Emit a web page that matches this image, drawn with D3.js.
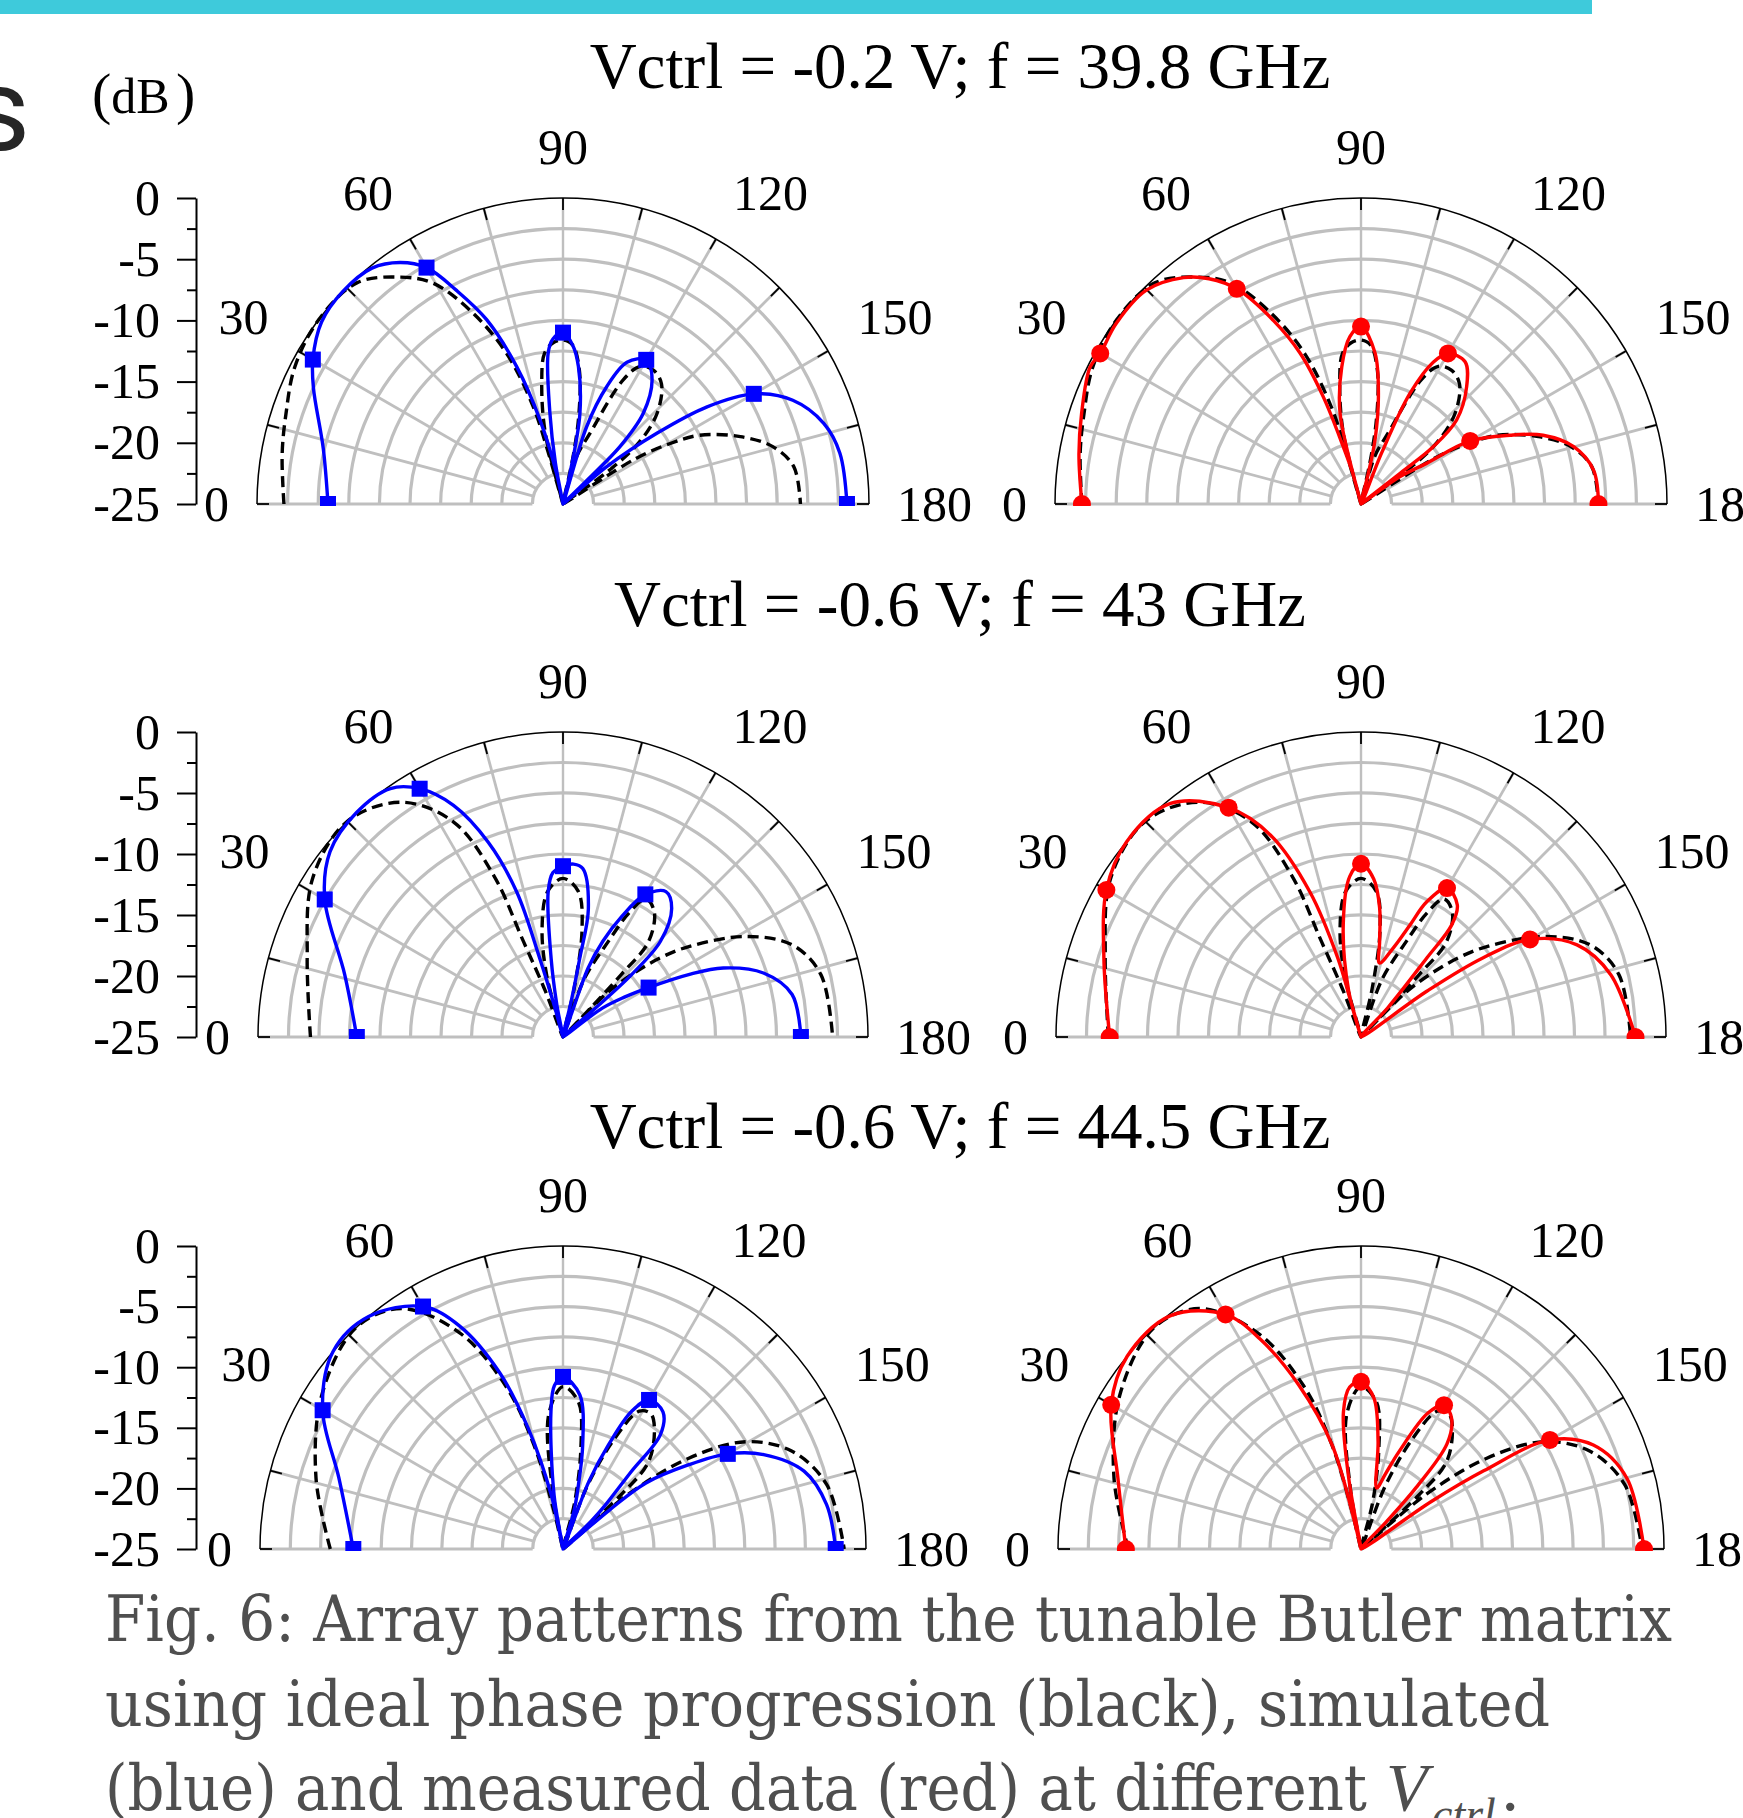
<!DOCTYPE html>
<html>
<head>
<meta charset="utf-8">
<script src="https://cdn.jsdelivr.net/npm/d3@7"></script>
<style>
  html, body { margin: 0; padding: 0; background: #fff; }
  svg { display: block; }
</style>
</head>
<body>
<svg id="chart" width="1743" height="1818"></svg>
<script>
// ---------- data: [angle (deg), level (dB)] ----------

const angleTicks = [0, 30, 60, 90, 120, 150, 180];
const dbTicks = [0, -5, -10, -15, -20, -25];
const dbMinorTicks = [-2.5, -7.5, -12.5, -17.5, -22.5];

const rowTitles = [
  "Vctrl = -0.2 V; f = 39.8 GHz",
  "Vctrl = -0.6 V; f = 43 GHz",
  "Vctrl = -0.6 V; f = 44.5 GHz",
];

// ideal phase progression (black dashed), same in both columns of a row
const ideal398 = [
  [0, -2.2], [10, -1.7], [18, -1.2], [27, -0.4], [37, 0], [47, -0.3], [54.4, -2.2],
  [59.6, -4.1], [64.8, -7.8], [69.5, -11.9], [73, -16.7], [74, -20.5], [74.8, -25],
  [76, -19], [80, -15], [83, -12.6], [86.5, -11.8], [90, -11.6], [93.5, -12], [97, -14],
  [100, -17.5], [102, -21], [103.5, -25], [106, -21], [110.9, -18.8], [115.9, -13.7],
  [119.3, -12.1], [124, -11.8], [129.3, -12.3], [136, -14.3], [141, -17], [144, -20.5],
  [146, -25], [148, -18], [150.5, -15], [153.3, -12.5], [159.2, -9.5], [164.8, -7.2],
  [170.8, -5.9], [180, -5.6],
];
const ideal43 = [
  [0, -4.3], [17.2, -3.05], [32.4, -0.7], [45, 0], [55.5, -1.65], [63, -5.2], [66.8, -10.6],
  [67.5, -16.5], [69, -21], [71, -25], [75, -20], [79, -16], [84, -13], [90, -12], [96, -13],
  [100, -16], [103, -21], [105, -25], [110, -20], [115.4, -16.3], [118, -13.5], [121, -11.8],
  [126.1, -12.3], [131.9, -14.5], [133, -18], [133.6, -21.5], [134, -25], [135, -20],
  [137.7, -17.4], [140.9, -14.7], [144.3, -12.3], [151.2, -7.9], [158.1, -4.75],
  [166.4, -3.25], [180, -2.9],
];
const ideal445 = [
  [0, -5.8], [16, -3.8], [32.5, -1.4], [46.8, 0], [56.1, -1.1], [64.4, -5.2], [70.6, -10.7],
  [74.4, -16.1], [76.6, -21.8], [78, -25], [80, -20], [84, -13.8], [90, -11.6], [96, -12.8],
  [100, -16.5], [104, -21], [107, -25], [111, -19.5], [115, -15], [119, -12], [123, -11.7],
  [127.1, -12.5], [134.4, -14.9], [137, -18.5], [138, -25], [140, -18], [144.2, -12.2],
  [149.6, -7.5], [156.9, -4.45], [166.3, -2.6], [180, -1.8],
];

// simulated (blue)
const sim398 = [
  [0, -5.8], [13, -4.9], [25, -2.5], [30, -1.4], [37, -0.3], [44, 0], [51, -0.2], [56, -1.2],
  [60, -2.7], [63.5, -5.5], [67.5, -8.7], [71.4, -13.2], [74.7, -17.9], [78, -22.4], [78.6, -25],
  [79.5, -21.6], [81.8, -17.5], [84.4, -12.6], [86.5, -11.5], [90, -11], [93.5, -12],
  [96.4, -13.7], [100.6, -17.5], [102.8, -22.4], [104, -25], [107, -18.4], [110.4, -14.8],
  [114.3, -12.3], [120, -11.4], [125.6, -12.5], [131.5, -15.1], [134.8, -18.4], [135.5, -22],
  [137, -25], [139.5, -20.3], [143, -15.4], [146, -10.8], [150, -7], [155.7, -4.4],
  [162.8, -2.7], [169.6, -2], [180, -1.8],
];
const sim43 = [
  [0, -8.1], [15.9, -6.4], [30, -2.45], [38.5, -0.6], [47.4, 0], [55.2, -0.2], [60, -1.5],
  [64.7, -4], [69, -7.9], [72.3, -12.5], [73.5, -18.2], [74.5, -22.5], [76, -25], [79.2, -22.3],
  [81.4, -18.5], [84.2, -13], [86.5, -11.5], [90, -11], [93.5, -10.8], [96.7, -11.1],
  [101.2, -14.3], [102, -18.4], [102.9, -22], [106, -25], [110, -19], [112.6, -16.5],
  [116, -14], [120, -11.5], [125.3, -10.4], [130.2, -11.2], [135.5, -13.8], [137.7, -17.4],
  [138.3, -20.6], [140, -25], [143.7, -21], [147, -19], [150, -16.9], [153.6, -13.5],
  [156.7, -10.7], [162.3, -7.75], [169.5, -5.9], [180, -5.5],
];
const sim445 = [
  [0, -7.7], [17.6, -5.6], [30, -2.1], [40.6, 0], [50.1, 0], [60, -1.9], [65.1, -4.7],
  [70.2, -9.5], [73.9, -14.6], [77.7, -20.4], [79, -25], [80.6, -20.5], [85, -13.6],
  [87, -11.5], [90, -10.8], [96.2, -12.2], [100.7, -16.25], [104, -20], [106.2, -21.75],
  [108, -25], [111, -19], [113.6, -15.6], [116.5, -12.3], [120, -10.8], [126.1, -11],
  [130.4, -12.6], [131.4, -16.5], [134, -20], [135.4, -21.7], [138, -25], [140, -20],
  [141.5, -16.25], [146.2, -12.5], [150, -9.3], [154.8, -6.7], [162.1, -4.1], [170.4, -2.95],
  [180, -2.5],
];

// measured (red)
const meas398 = [
  [0, -2.2], [10, -1.6], [18, -1], [26.8, -0.2], [30, -0.4], [36.4, -0.15], [44.9, -0.25],
  [51.9, -1.5], [56, -2.8], [60, -4.7], [64.5, -8.4], [68, -11.7], [70.6, -15.7], [72.8, -20.1],
  [75, -22.4], [76.3, -25], [77, -17.4], [82, -13.7], [86.2, -11.3], [90, -10.5], [95.3, -12.6],
  [99.2, -16.1], [102.3, -19.6], [103.4, -22.4], [108, -25], [112, -20.5], [113.9, -15.1],
  [117, -12], [120, -10.8], [126.2, -10.6], [132, -12.1], [138.7, -14.6], [141.6, -17.5],
  [141.8, -20.9], [143.5, -25], [145, -21.1], [148.2, -18.7], [150, -14.7], [155.2, -11.6],
  [159.3, -9.1], [164.9, -7], [171.7, -5.8], [180, -5.6],
];
const meas43 = [
  [0, -4.4], [17.1, -2.95], [30, -0.9], [39.7, 0], [50.8, -0.3], [60, -3.3], [65.9, -6.9],
  [70.6, -12.4], [73.6, -18.25], [74, -22], [74.5, -25], [75, -21.1], [81, -15.7], [86, -11.8],
  [90, -10.8], [94.6, -12], [98.2, -14.3], [101, -17], [104, -18.75], [110, -17.2],
  [113.6, -15], [115.9, -12.7], [120, -10.9], [126.1, -11.6], [129, -13.2], [129.8, -16.6],
  [132.5, -21.75], [138, -25], [145.2, -18.4], [147, -13.1], [150, -9], [156.9, -5.75],
  [166, -3.9], [180, -2.5],
];
const meas445 = [
  [0, -5.6], [16.3, -4.1], [30, -1.2], [39.5, 0], [50.8, -0.15], [60, -2.65], [64.3, -5.75],
  [69.2, -10.5], [74.5, -16.1], [76.7, -22.6], [77.5, -25], [80.2, -19], [82.7, -13.6],
  [86, -11.6], [90, -11.2], [94.9, -12.5], [99, -16], [104.4, -19.8], [108, -18.5],
  [111.3, -16.4], [116.2, -12.5], [120, -11.3], [124.8, -11.9], [129.3, -13.8], [131.9, -18.2],
  [133, -22], [140, -25], [146, -18], [147.5, -13], [150, -7], [155.9, -4], [165.1, -2.3],
  [180, -1.65],
];

const captionLines = [
  "Fig. 6: Array patterns from the tunable Butler matrix",
  "using ideal phase progression (black), simulated",
  "(blue) and measured data (red) at different",
];

// ---------- layout ----------

const W = 1743;
const H = 1818;
const serif = "'Liberation Serif', 'Times New Roman', serif";
const gridGrey = "#bfbfbf";
const colX = [563, 1361];

const rows = [
  { title: rowTitles[0], titleY: 88, cy: 504, R: 306, ideal: ideal398, sim: sim398, meas: meas398 },
  { title: rowTitles[1], titleY: 626, cy: 1037, R: 305, ideal: ideal43, sim: sim43, meas: meas43 },
  { title: rowTitles[2], titleY: 1148, cy: 1549, R: 303, ideal: ideal445, sim: sim445, meas: meas445 },
];

const svg = d3.select("#chart");
svg.append("rect").attr("width", W).attr("height", H).attr("fill", "#fff");

// slide decoration: banner strip and the cut-off heading letter
svg.append("rect").attr("x", 0).attr("y", 0).attr("width", 1592).attr("height", 14).attr("fill", "#3ecadb");
svg.append("text")
  .attr("x", 30).attr("y", 150).attr("text-anchor", "end")
  .style("font-family", "Roboto, 'Open Sans', sans-serif").style("font-size", "116px")
  .attr("fill", "#262626").text("s");

// (dB ) unit label
const unit = svg.append("text").attr("x", 92).attr("y", 113)
  .style("font-family", serif).attr("fill", "#000");
unit.append("tspan").style("font-size", "58px").text("(");
unit.append("tspan").style("font-size", "50px").text("dB");
unit.append("tspan").attr("x", 176).style("font-size", "58px").text(")");

// ---------- one half-polar panel ----------

let clipCount = 0;

function drawPanel(cx, cy, R, ideal, series, color, marker, withAxis) {
  const g = svg.append("g").attr("transform", `translate(${cx},${cy})`);

  const angle = d3.scaleLinear().domain([0, 180]).range([-Math.PI / 2, Math.PI / 2]);
  const radius = d3.scaleLinear().domain([-25, 0]).range([0, R]).clamp(true);
  const xy = (deg, r) => {
    const a = angle(deg);
    return [r * Math.sin(a), -r * Math.cos(a)];
  };

  const rInner = radius(-22.5);

  // grey rings every 2.5 dB
  const ringLevels = d3.range(1, 10).map((i) => -25 + 2.5 * i);
  g.selectAll(".ring").data(ringLevels).join("path")
    .attr("fill", "none").attr("stroke", gridGrey).attr("stroke-width", 3.2)
    .attr("d", (d) => {
      const r = radius(d);
      const p = d3.path();
      p.moveTo(-r, 0);
      p.arc(0, 0, r, Math.PI, 2 * Math.PI);
      return p.toString();
    });

  // spokes every 15 deg
  g.selectAll(".spoke").data(d3.range(15, 180, 15)).join("line")
    .attr("stroke", gridGrey).attr("stroke-width", (d) => (d === 90 ? 2.4 : 2.8))
    .attr("x1", (d) => xy(d, rInner)[0]).attr("y1", (d) => xy(d, rInner)[1])
    .attr("x2", (d) => xy(d, R)[0]).attr("y2", (d) => xy(d, R)[1]);

  // baseline (0 and 180 spokes)
  g.selectAll(".base").data([[-R, -rInner], [rInner, R]]).join("line")
    .attr("stroke", gridGrey).attr("stroke-width", 3)
    .attr("x1", (d) => d[0]).attr("x2", (d) => d[1]).attr("y1", 0).attr("y2", 0);

  // outer black arc + ticks
  const outer = d3.path();
  outer.moveTo(-R, 0);
  outer.arc(0, 0, R, Math.PI, 2 * Math.PI);
  g.append("path").attr("d", outer.toString())
    .attr("fill", "none").attr("stroke", "#000").attr("stroke-width", 1.5);

  g.selectAll(".atick").data(d3.range(0, 181, 15)).join("line")
    .attr("stroke", "#000").attr("stroke-width", 1.8)
    .attr("x1", (d) => xy(d, R - 12)[0]).attr("y1", (d) => xy(d, R - 12)[1])
    .attr("x2", (d) => xy(d, R)[0]).attr("y2", (d) => xy(d, R)[1]);

  // angle labels
  g.selectAll(".alabel").data(angleTicks).join("text")
    .style("font-family", serif).style("font-size", "50px").attr("fill", "#000")
    .attr("x", (d) => xy(d, d === 0 || d === 180 ? R + 28 : R + 34)[0])
    .attr("y", (d) => xy(d, d === 0 || d === 180 ? R + 28 : R + 34)[1])
    .attr("text-anchor", (d) => (d < 90 ? "end" : d > 90 ? "start" : "middle"))
    .attr("dominant-baseline", (d) => (d === 0 || d === 180 ? "central" : "alphabetic"))
    .text((d) => d);

  // radial dB axis on the left
  if (withAxis) {
    const yScale = d3.scaleLinear().domain([-25, 0]).range([0, -R]);
    const axisX = 196 - cx;
    const major = g.append("g").attr("transform", `translate(${axisX},0)`)
      .call(d3.axisLeft(yScale).tickValues(dbTicks).tickSize(19).tickSizeOuter(0)
        .tickPadding(17).tickFormat((d) => String(d)));
    major.select(".domain").attr("stroke-width", 2);
    major.selectAll(".tick line").attr("stroke-width", 2);
    major.selectAll("text").style("font-family", serif).style("font-size", "50px").attr("fill", "#000");
    major.attr("font-size", null).attr("font-family", null);

    g.append("g").attr("transform", `translate(${axisX},0)`)
      .call(d3.axisLeft(yScale).tickValues(dbMinorTicks).tickSize(9).tickSizeOuter(0).tickFormat(""))
      .call((a) => a.select(".domain").remove())
      .selectAll(".tick line").attr("stroke-width", 2);
  }

  // curves, clipped to the upper half
  clipCount += 1;
  const clipId = `clip-${clipCount}`;
  g.append("clipPath").attr("id", clipId)
    .append("rect").attr("x", -R - 40).attr("y", -R - 40).attr("width", 2 * R + 80).attr("height", R + 42);

  const plot = g.append("g").attr("clip-path", `url(#${clipId})`);

  const line = d3.lineRadial()
    .angle((d) => angle(d[0]))
    .radius((d) => radius(d[1]))
    .curve(d3.curveCatmullRom.alpha(0.5));

  plot.append("path").datum(ideal).attr("d", line)
    .attr("fill", "none").attr("stroke", "#000").attr("stroke-width", 3.4)
    .attr("stroke-dasharray", "11,6");

  plot.append("path").datum(series).attr("d", line)
    .attr("fill", "none").attr("stroke", color).attr("stroke-width", 3.4)
    .attr("stroke-linejoin", "round");

  const marked = series.filter((d) => d[0] % 30 === 0);
  if (marker === "square") {
    plot.selectAll(".mk").data(marked).join("rect")
      .attr("x", (d) => xy(d[0], radius(d[1]))[0] - 8)
      .attr("y", (d) => xy(d[0], radius(d[1]))[1] - 8)
      .attr("width", 16).attr("height", 16).attr("fill", color);
  } else {
    plot.selectAll(".mk").data(marked).join("circle")
      .attr("cx", (d) => xy(d[0], radius(d[1]))[0])
      .attr("cy", (d) => xy(d[0], radius(d[1]))[1])
      .attr("r", 9).attr("fill", color);
  }
}

// ---------- draw rows ----------

rows.forEach((row) => {
  svg.append("text")
    .attr("x", 960).attr("y", row.titleY).attr("text-anchor", "middle")
    .style("font-family", serif).style("font-size", "65px").attr("fill", "#000")
    .text(row.title);

  drawPanel(colX[0], row.cy, row.R, row.ideal, row.sim, "#0000ff", "square", true);
  drawPanel(colX[1], row.cy, row.R, row.ideal, row.meas, "#ff0000", "circle", false);
});

// ---------- caption ----------

const capFont = "'DejaVu Serif', 'Liberation Serif', serif";
const capColor = "#4f4f4f";
const capBaselines = [1641, 1726, 1810];
const capLengths = [1567, 1445, 1262];

captionLines.forEach((txt, i) => {
  svg.append("text")
    .attr("x", 105).attr("y", capBaselines[i])
    .attr("textLength", capLengths[i]).attr("lengthAdjust", "spacingAndGlyphs")
    .style("font-family", capFont).style("font-size", "64px").attr("fill", capColor)
    .text(txt);
});

svg.append("text").attr("x", 1386).attr("y", 1810)
  .style("font-family", serif).style("font-size", "68px").style("font-style", "italic")
  .attr("fill", capColor).text("V");
svg.append("text").attr("x", 1432).attr("y", 1830)
  .style("font-family", serif).style("font-size", "46px").style("font-style", "italic")
  .attr("fill", capColor).text("ctrl");
svg.append("text").attr("x", 1500).attr("y", 1810)
  .style("font-family", capFont).style("font-size", "64px").attr("fill", capColor).text(".");
</script>
</body>
</html>
